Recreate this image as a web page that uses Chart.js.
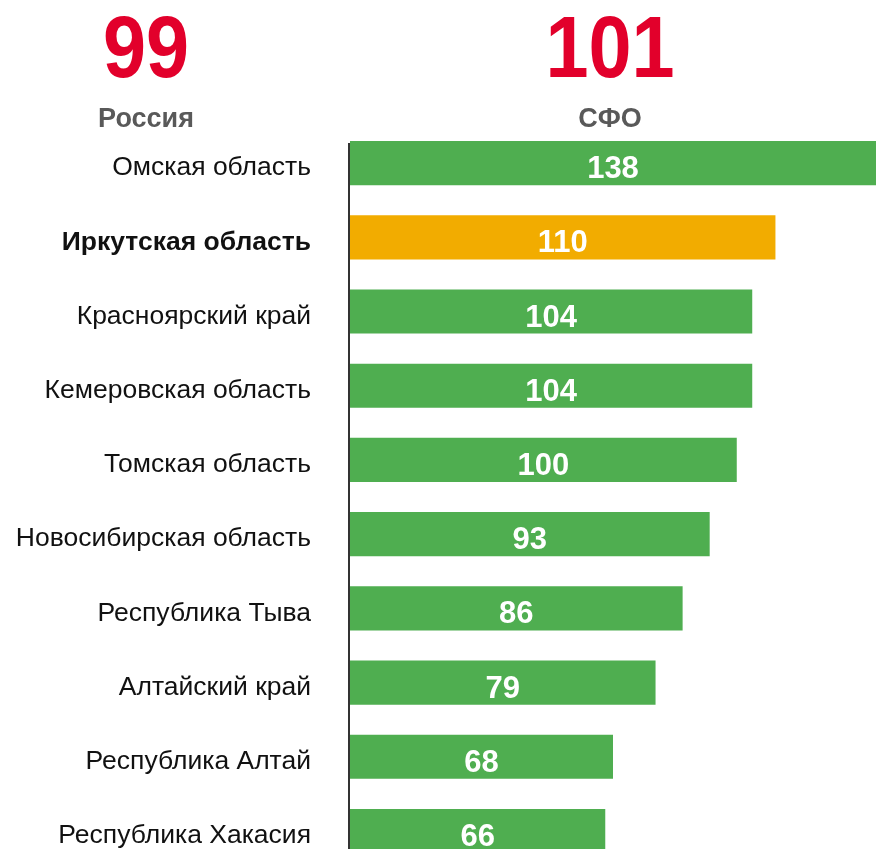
<!DOCTYPE html>
<html lang="ru">
<head>
  <meta charset="UTF-8">
  <title>Регионы СФО</title>
  <script src="https://cdn.jsdelivr.net/npm/chart.js"></script>
  <style>
    html, body {
      margin: 0;
      padding: 0;
      background: #fff;
      overflow: hidden;
      font-family: Arial, 'Liberation Sans', sans-serif;
    }
    .page {
      position: relative;
      width: 876px;
      height: 849px;
      overflow: hidden;
    }
    .chart-container {
      position: absolute;
      left: 0;
      top: 0;
      width: 876px;
      height: 923px;
    }
    .head {
      position: absolute;
      text-align: center;
      width: 240px;
      font-weight: bold;
      z-index: 2;
    }
    .head .num {
      color: #e2002b;
      font-size: 88px;
      line-height: 88px;
      transform: scaleX(0.88);
    }
    .head .name {
      color: #595959;
      font-size: 27px;
      line-height: 30px;
      margin-top: 12px;
    }
  </style>
</head>
<body>
  <div class="page">
    <div class="head" id="headRussia" style="left: 26px; top: 3px;">
      <div class="num">99</div>
      <div class="name">Россия</div>
    </div>
    <div class="head" id="headSfo" style="left: 490px; top: 3px;">
      <div class="num">101</div>
      <div class="name">СФО</div>
    </div>
    <div class="chart-container">
      <canvas id="regionChart"></canvas>
    </div>
  </div>

  <script>
    // Data
    const regions = [
      'Омская область',
      'Иркутская область',
      'Красноярский край',
      'Кемеровская область',
      'Томская область',
      'Новосибирская область',
      'Республика Тыва',
      'Алтайский край',
      'Республика Алтай',
      'Республика Хакасия'
    ];
    const values = [138, 110, 104, 104, 100, 93, 86, 79, 68, 66];
    const highlightRegion = 'Иркутская область';

    const green = '#4fae50';
    const orange = '#f2ac00';

    // Value labels inside bars + vertical axis line
    const barLabels = {
      id: 'barLabels',
      afterDatasetsDraw(chart) {
        const { ctx, chartArea } = chart;
        const meta = chart.getDatasetMeta(0);
        ctx.save();
        // axis line
        ctx.strokeStyle = '#333';
        ctx.lineWidth = 2;
        ctx.beginPath();
        ctx.moveTo(chartArea.left - 1, chartArea.top + 17);
        ctx.lineTo(chartArea.left - 1, chartArea.bottom);
        ctx.stroke();
        // labels
        ctx.fillStyle = '#fff';
        ctx.font = 'bold 31px Arial, "Liberation Sans", sans-serif';
        ctx.textAlign = 'center';
        ctx.textBaseline = 'alphabetic';
        meta.data.forEach((bar, i) => {
          const right = Math.min(bar.x, chartArea.right);
          const cx = (bar.base + right) / 2;
          ctx.fillText(values[i], cx, bar.y + 15);
        });
        ctx.restore();
      }
    };

    const ctx = document.getElementById('regionChart').getContext('2d');
    const regionChart = new Chart(ctx, {
      type: 'bar',
      data: {
        labels: regions,
        datasets: [{
          data: values,
          backgroundColor: regions.map(r => r === highlightRegion ? orange : green),
          borderWidth: 0,
          categoryPercentage: 1,
          barPercentage: 0.595
        }]
      },
      options: {
        indexAxis: 'y',
        responsive: true,
        maintainAspectRatio: false,
        animation: false,
        layout: {
          padding: { top: 126, bottom: 34, left: 0, right: 0 }
        },
        plugins: {
          legend: { display: false },
          tooltip: { enabled: false }
        },
        scales: {
          x: {
            display: false,
            min: 0,
            max: 136
          },
          y: {
            afterFit(scale) { scale.width = 350; },
            grid: { display: false, drawTicks: false },
            border: { display: false },
            ticks: {
              padding: 39,
              labelOffset: 5,
              color: '#111',
              font: (c) => ({
                family: 'Arial, "Liberation Sans", sans-serif',
                size: 26.5,
                weight: regions[c.index] === highlightRegion ? 'bold' : 'normal'
              })
            }
          }
        }
      },
      plugins: [barLabels]
    });
  </script>
</body>
</html>
